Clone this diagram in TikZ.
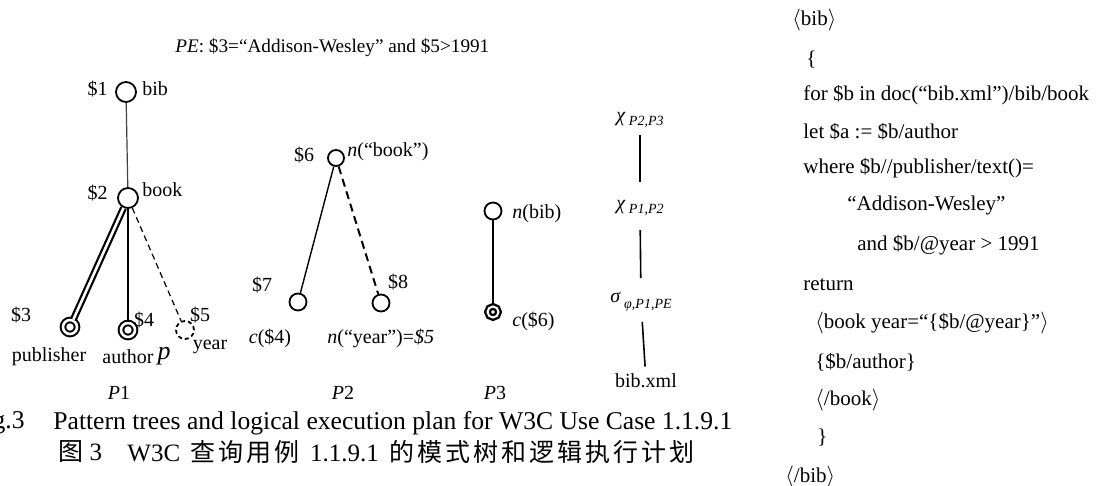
\documentclass[tikz,border=0pt]{standalone}
\usepackage{fontspec}
\setmainfont{Liberation Serif}
\newfontfamily\cjk{Noto Sans CJK SC}[LetterSpace=12]
\usepackage{tikz}
\usetikzlibrary{positioning}

\tikzset{
  vnode/.style={circle,draw,line width=0.9pt,minimum size=9pt,inner sep=0pt},
  retnode/.style={circle,draw,line width=1pt,double,double distance=1.3pt,minimum size=7pt,inner sep=0pt},
  optnode/.style={vnode,dash pattern=on 2pt off 1.5pt},
  lbl/.style={font=\fontsize{10}{12}\selectfont,inner sep=1pt},
  planop/.style={font=\fontsize{10}{12}\selectfont,inner sep=1pt},
  planedge/.style={line width=0.8pt},
  codeline/.style={font=\fontsize{10.5}{12}\selectfont,anchor=west,inner sep=0pt},
  capline/.style={font=\fontsize{12.8}{15}\selectfont,inner sep=0pt},
}

\begin{document}
\begin{tikzpicture}[x=0.5pt,y=-0.5pt]
            \path[use as bounding box,clip] (0,0) rectangle (1099,486);
            \fill[white] (0,0) rectangle (1099,486);
            % predicate
            \node[lbl,anchor=west,font=\fontsize{9.6}{12}\selectfont] (pe) at (173,48) {\textit{PE}: \$3=``Addison-Wesley'' and \$5>1991};
            % pattern tree P1
            \node[vnode,minimum size=10pt] (v1) at (126,92) {};
            \node[vnode,minimum size=10pt] (v2) at (128,198) {};
            \node[retnode] (v3) at (70,327) {};
            \node[retnode] (v4) at (128,330) {};
            \node[optnode] (v5) at (185,330) {};
            \draw[line width=0.6pt,black!75] (v1) -- (v2);
            \draw[line width=1.1pt,double,double distance=1.3pt] (v2) -- (v3);
            \draw[line width=0.6pt] (v2) -- (v4);
            \draw[line width=0.6pt,dash pattern=on 3pt off 2pt] (v2) -- (v5);
            \node[lbl,anchor=east] (v1id) at (110,89) {\$1};
            \node[lbl,anchor=west] (v1tag) at (140,89) {bib};
            \node[lbl,anchor=east] (v2id) at (110,193) {\$2};
            \node[lbl,anchor=west] (v2tag) at (140,190) {book};
            \node[lbl] (v3id) at (21,315) {\$3};
            \node[lbl] (v4id) at (144,320) {\$4};
            \node[lbl] (v5id) at (200,315) {\$5};
            \node[lbl] (v3tag) at (49,357) {publisher};
            \node[lbl] (v4tag) at (128,357) {author};
            \node[lbl,font=\fontsize{13}{15}\selectfont\itshape] (ptag) at (164,356) {p};
            \node[lbl] (v5tag) at (210,347) {year};
            \node[lbl] (p1) at (119,393) {\textit{P}1};
            % pattern tree P2
            \node[vnode,minimum size=8pt] (v6) at (336,158) {};
            \node[vnode,minimum size=8.5pt] (v7) at (298,302) {};
            \node[vnode,minimum size=8.5pt] (v8) at (381,303) {};
            \draw[line width=0.7pt] (v6) -- (v7);
            \draw[line width=1pt,dash pattern=on 4pt off 2.5pt] (v6) -- (v8);
            \node[lbl] (v6id) at (304,155) {\$6};
            \node[lbl,anchor=west] (v6tag) at (345,152) {\textit{n}(``book'')};
            \node[lbl] (v7id) at (262,285) {\$7};
            \node[lbl] (v8id) at (398,282) {\$8};
            \node[lbl] (v7tag) at (270,338) {\textit{c}(\$4)};
            \node[lbl,anchor=west] (v8tag) at (325,338) {\textit{n}(``year'')=\textit{\$5}};
            \node[lbl] (p2) at (343,393) {\textit{P}2};
            % pattern tree P3
            \node[vnode,minimum size=8.5pt] (v9) at (493,211) {};
            \node[retnode,line width=1.2pt,double distance=1pt,minimum size=5.5pt] (v10) at (493,312) {};
            \draw[line width=0.7pt] (v9) -- (v10);
            \node[lbl,anchor=west] (v9tag) at (510,214) {\textit{n}(bib)};
            \node[lbl,anchor=west] (v10tag) at (510,321) {\textit{c}(\$6)};
            \node[lbl] (p3) at (495,393) {\textit{P}3};
            % logical plan
            \node[planop] (chi23) at (640,120) {\textit{χ}\,\raisebox{-0.4ex}{\scriptsize\itshape P2,P3}};
            \node[planop] (chi12) at (640,208) {\textit{χ}\,\raisebox{-0.4ex}{\scriptsize\itshape P1,P2}};
            \node[planop] (sel) at (641,302) {\textit{σ}\,\raisebox{-0.6ex}{\scriptsize\itshape φ,P1,PE}};
            \node[planop] (src) at (646,381) {bib.xml};
            \draw[planedge,shorten <=2.5pt,shorten >=8pt] (chi23) -- (chi12);
            \draw[planedge,shorten <=6pt,shorten >=6pt] (chi12) -- (sel);
            \draw[planedge,shorten <=4pt,shorten >=2.5pt] (sel) -- (src);
            % query text
            \node[codeline] (q1) at (792,20) {$\langle$bib$\rangle$};
            \node[codeline] (q2) at (806,60) {\{};
            \node[codeline] (q3) at (803,95) {for \$b in doc(``bib.xml'')/bib/book};
            \node[codeline] (q4) at (803,132) {let \$a := \$b/author};
            \node[codeline] (q5) at (803,168) {where \$b//publisher/text()=};
            \node[codeline] (q6) at (847,205) {``Addison-Wesley''};
            \node[codeline] (q7) at (857,245) {and \$b/@year > 1991};
            \node[codeline] (q8) at (803,285) {return};
            \node[codeline] (q9) at (815,323) {$\langle$book year=``\{\$b/@year\}''$\rangle$};
            \node[codeline] (q10) at (815,362) {\{\$b/author\}};
            \node[codeline] (q11) at (815,400) {$\langle$/book$\rangle$};
            \node[codeline] (q12) at (817,438) {\}};
            \node[codeline] (q13) at (785,477) {$\langle$/bib$\rangle$};
            % caption
            \node[capline,anchor=east] (capno) at (25,423) {Fig.3};
            \node[capline,anchor=west] (captxt) at (53,423) {Pattern trees and logical execution plan for W3C Use Case 1.1.9.1};
            \node[capline,anchor=west,font=\fontsize{12.5}{15}\selectfont] (capcnno) at (58,452) {{\cjk 图} 3};
            \node[capline,anchor=west,font=\fontsize{12.5}{15}\selectfont] (capcn) at (127,452) {W3C\, {\cjk 查询用例}\, 1.1.9.1\, {\cjk 的模式树和逻辑执行计划}};
        \end{tikzpicture}
\end{document}
